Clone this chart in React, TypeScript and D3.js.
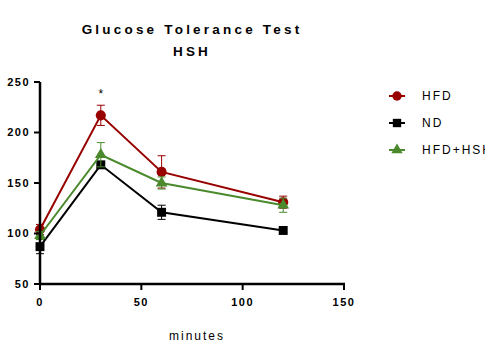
import * as d3 from "d3";

const W = 485;
const H = 360;
const MARGIN = { top: 82, left: 40, right: 141, bottom: 76 };

const TIMES = [0, 30, 60, 120];
const HFD = [104, 217, 161, 131];
const HFD_ERR = [5, 10, 16, 6];
const ND = [87, 168, 121, 103];
const ND_ERR = [7, 3, 7, 2];
const HFDHS = [98, 178, 150, 128];
const HFDHS_ERR = [4, 12, 6, 7];
const X_TICKS = [0, 50, 100, 150];
const Y_TICKS = [50, 100, 150, 200, 250];

const SERIES = [
  { name: "HFD", values: HFD, err: HFD_ERR, color: "#980000", shape: "circle" },
  { name: "ND", values: ND, err: ND_ERR, color: "#000000", shape: "square" },
  { name: "HFD+HSH", values: HFDHS, err: HFDHS_ERR, color: "#4a8a2c", shape: "triangle" },
];

const FONT = "'Liberation Sans', Arial, sans-serif";

const symbolPath = (shape: string, size: number) => {
  const type = shape === "circle" ? d3.symbolCircle : shape === "square" ? d3.symbolSquare : d3.symbolTriangle;
  return d3.symbol().type(type).size(size)()!;
};

const App = () => {
  const innerW = W - MARGIN.left - MARGIN.right;
  const innerH = H - MARGIN.top - MARGIN.bottom;
  const x = d3.scaleLinear().domain([0, 150]).range([0, innerW]);
  const y = d3.scaleLinear().domain([50, 250]).range([innerH, 0]);
  const line = d3
    .line<number>()
    .x((_, i) => x(TIMES[i]))
    .y((d) => y(d));

  return (
    <svg width={W} height={H} style={{ position: "absolute", left: 0, top: 0, background: "#fff" }} fontFamily={FONT}>
      <text x={192} y={34} textAnchor="middle" fontSize={13.5} fontWeight="bold" letterSpacing={3.2}>
        Glucose Tolerance Test
      </text>
      <text x={192} y={56} textAnchor="middle" fontSize={13.5} fontWeight="bold" letterSpacing={3.2}>
        HSH
      </text>
      <g transform={`translate(${MARGIN.left},${MARGIN.top})`}>
        {SERIES.map((s) => (
          <g key={s.name}>
            {s.values.map((v, i) => (
              <g key={i} stroke={s.color} strokeWidth={1}>
                <line x1={x(TIMES[i])} x2={x(TIMES[i])} y1={y(v - s.err[i])} y2={y(v + s.err[i])} />
                <line x1={x(TIMES[i]) - 4} x2={x(TIMES[i]) + 4} y1={y(v + s.err[i])} y2={y(v + s.err[i])} />
                <line x1={x(TIMES[i]) - 4} x2={x(TIMES[i]) + 4} y1={y(v - s.err[i])} y2={y(v - s.err[i])} />
              </g>
            ))}
            <path d={line(s.values)!} fill="none" stroke={s.color} strokeWidth={2} />
            {s.values.map((v, i) => (
              <path
                key={i}
                transform={`translate(${x(TIMES[i])},${y(v)})`}
                d={symbolPath(s.shape, s.shape === "triangle" ? 60 : 80)}
                fill={s.color}
              />
            ))}
          </g>
        ))}
        <text x={x(30)} y={y(250) + 16} textAnchor="middle" fontSize={12}>
          *
        </text>
        {/* y axis */}
        <line x1={0} x2={0} y1={0} y2={innerH + 1} stroke="#000" strokeWidth={2.5} />
        {Y_TICKS.map((t) => (
          <g key={t} transform={`translate(0,${y(t)})`}>
            <line x1={-6} x2={0} stroke="#000" strokeWidth={2} />
            <text x={-10} dy="0.35em" textAnchor="end" fontSize={11} fontWeight="bold" letterSpacing={1.5}>
              {t}
            </text>
          </g>
        ))}
        {/* x axis */}
        <line x1={-1} x2={innerW + 1} y1={innerH} y2={innerH} stroke="#000" strokeWidth={2.5} />
        {X_TICKS.map((t) => (
          <g key={t} transform={`translate(${x(t)},${innerH})`}>
            <line y1={0} y2={6} stroke="#000" strokeWidth={2} />
            <text y={22} textAnchor="middle" fontSize={11} fontWeight="bold" letterSpacing={1.5}>
              {t}
            </text>
          </g>
        ))}
        <text x={innerW / 2 + 5} y={innerH + 56} textAnchor="middle" fontSize={12} letterSpacing={2}>
          minutes
        </text>
      </g>
      {/* legend */}
      {SERIES.map((s, i) => (
        <g key={s.name} transform={`translate(397,${96 + i * 27})`}>
          <line x1={-8} x2={8} stroke={s.color} strokeWidth={2} />
          <path d={symbolPath(s.shape, s.shape === "triangle" ? 55 : 70)} fill={s.color} />
          <text x={25} dy="0.35em" fontSize={12} letterSpacing={2}>
            {s.name}
          </text>
        </g>
      ))}
    </svg>
  );
};

export default App;
